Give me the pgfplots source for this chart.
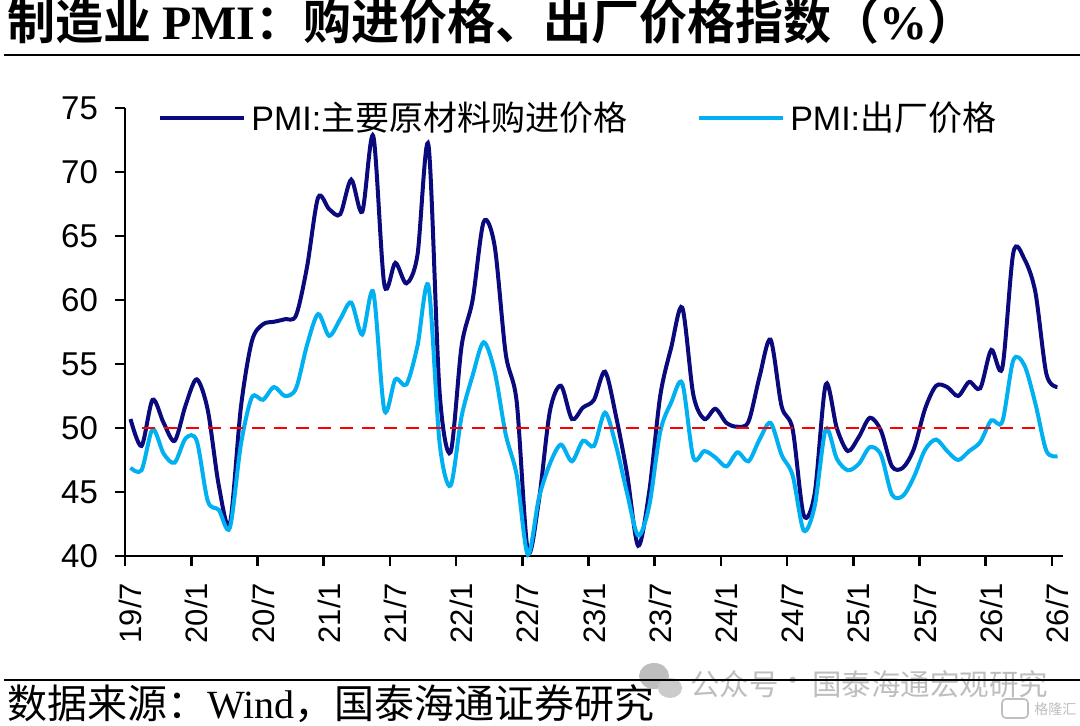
\documentclass[border=0pt]{standalone}
\usepackage{fontspec}
\setmainfont{Liberation Sans}
\newfontfamily\cjk{Noto Sans CJK SC}[BoldFont={Noto Sans CJK SC Bold}]
\newfontfamily\tnr{Liberation Serif}
\usepackage{pgfplots}
\usepackage{pgfplotstable}
\pgfplotsset{compat=1.18}
\definecolor{navy}{RGB}{10,10,125}
\definecolor{lblue}{RGB}{0,176,240}
\definecolor{wm}{RGB}{190,190,190}

\pgfplotstableread{
m p o
0 50.7 46.9
1 48.6 46.7
2 52.2 49.9
3 50.4 48.0
4 49.0 47.3
5 51.8 49.2
6 53.8 49.0
7 51.4 44.3
8 45.5 43.6
9 42.5 42.2
10 51.6 48.7
11 56.8 52.4
12 58.1 52.2
13 58.3 53.2
14 58.5 52.5
15 58.8 53.1
16 62.6 56.5
17 68.0 58.9
18 67.1 57.2
19 66.7 58.5
20 69.4 59.8
21 66.9 57.3
22 72.8 60.6
23 61.2 51.4
24 62.9 53.8
25 61.3 53.4
26 63.5 56.4
27 72.1 61.1
28 52.9 48.9
29 48.1 45.5
30 56.4 50.9
31 60.0 54.1
32 66.1 56.7
33 64.2 54.4
34 55.8 49.5
35 52.0 46.3
36 40.4 40.1
37 44.3 44.5
38 51.3 47.2
39 53.3 48.7
40 50.7 47.4
41 51.6 49.0
42 52.2 48.6
43 54.4 51.2
44 50.9 48.6
45 46.4 44.9
46 40.8 41.6
47 45.0 43.9
48 52.5 49.7
49 56.3 52.0
50 59.4 53.5
51 52.6 47.7
52 50.7 48.2
53 51.5 47.7
54 50.4 47.0
55 50.1 48.1
56 50.5 47.4
57 54.0 49.1
58 56.9 50.4
59 51.7 47.9
60 49.9 46.3
61 43.2 42.0
62 44.9 43.9
63 53.4 49.9
64 50.0 47.6
65 48.2 46.7
66 49.3 47.2
67 50.8 48.5
68 49.8 47.9
69 47.0 44.8
70 46.9 44.7
71 48.4 46.2
72 51.5 48.3
73 53.3 49.1
74 53.2 48.2
75 52.5 47.5
76 53.6 48.2
77 53.1 48.9
78 56.1 50.6
79 54.7 50.5
80 63.7 55.3
81 63.2 54.9
82 60.6 51.9
83 54.2 48.2
84 53.2 47.8
}\pmidata

\begin{document}
\begin{tikzpicture}
\useasboundingbox (0,0) rectangle (540pt,-363pt);
% title
\node[anchor=base west, inner sep=0pt] at (3.5pt,-20pt)
  {\fontsize{24pt}{28pt}\selectfont\cjk\bfseries 制造业 {\tnr\bfseries PMI}：购进价格、出厂价格指数（{\tnr\bfseries\%}）};
\draw[line width=1pt] (2pt,-27.5pt) -- (540pt,-27.5pt);
% watermark
\fill[wm] (327pt,-338pt) ellipse (7.5pt and 6.5pt);
\fill[wm!80] (335pt,-344pt) ellipse (6pt and 5pt);
\node[anchor=west, inner sep=0pt, text=wm] at (345pt,-342pt)
  {\fontsize{14.75pt}{17pt}\selectfont\cjk 公众号};
\node[inner sep=0pt, text=wm] at (396.5pt,-342pt)
  {\fontsize{14.75pt}{17pt}\selectfont\cjk ·};
\node[anchor=west, inner sep=0pt, text=wm] at (406pt,-342pt)
  {\fontsize{14.75pt}{17pt}\selectfont\cjk 国泰海通宏观研究};
% footer
\draw[line width=1pt] (2pt,-340pt) -- (540pt,-340pt);
\node[anchor=base west, inner sep=0pt] at (3.5pt,-359.3pt)
  {\fontsize{20pt}{24pt}\selectfont\cjk 数据来源：{\tnr Wind}，国泰海通证券研究};
\draw[wm, line width=0.8pt, rounded corners=2pt] (501pt,-349.5pt) rectangle (514pt,-359pt);
\node[anchor=west, inner sep=0pt, text=wm] at (517pt,-354.5pt)
  {\fontsize{7pt}{8pt}\selectfont\cjk 格隆汇};
\begin{axis}[
  at={(62.5pt,-278pt)}, anchor=south west,
  width=469pt, height=224pt, scale only axis,
  xmin=0, xmax=85, ymin=40, ymax=75,
  axis lines*=left,
  axis line style={line width=1.3pt, black},
  ytick={40,45,...,75},
  xtick={0.5,6.5,...,84.5},
  xticklabels={19/7,20/1,20/7,21/1,21/7,22/1,22/7,23/1,23/7,24/1,24/7,25/1,25/7,26/1,26/7},
  minor xtick={0,6,...,84},
  tick align=outside,
  major tick length=5pt, minor tick length=5pt,
  tick style={line width=1.3pt, black},
  major x tick style={draw=none},
  /pgf/number format/assume math mode=true,
  yticklabel style={font=\fontsize{16.5pt}{19pt}\selectfont},
  yticklabel shift=5pt,
  xticklabel style={rotate=90, anchor=east, font=\fontsize{15.5pt}{18pt}\selectfont},
  xticklabel shift=5pt,
  clip=false,
  legend columns=2,
  legend image code/.code={\draw[#1] (0pt,0pt) -- (42pt,0pt);},
  legend style={at={(0,1)}, anchor=west, xshift=16.5pt, yshift=-5pt,
    draw=none, fill=none, inner sep=0pt,
    font=\fontsize{17pt}{19pt}\selectfont,
    nodes={inner sep=0pt},
    /tikz/every odd column/.append style={column sep=2.5pt},
    /tikz/every even column/.append style={column sep=35pt}},
]
\addplot[navy, line width=2pt, smooth, tension=0.5] table[x expr=\thisrow{m}+0.5, y=p] {\pmidata};
\addlegendentry{PMI:{\cjk 主要原材料购进价格}}
\addplot[lblue, line width=2pt, smooth, tension=0.5] table[x expr=\thisrow{m}+0.5, y=o] {\pmidata};
\addlegendentry{PMI:{\cjk 出厂价格}}
\addplot[red, line width=1.4pt, dash pattern=on 6.5pt off 4.5pt, forget plot] coordinates {(1.5,50) (82.5,50)};
\end{axis}
\end{tikzpicture}
\end{document}
